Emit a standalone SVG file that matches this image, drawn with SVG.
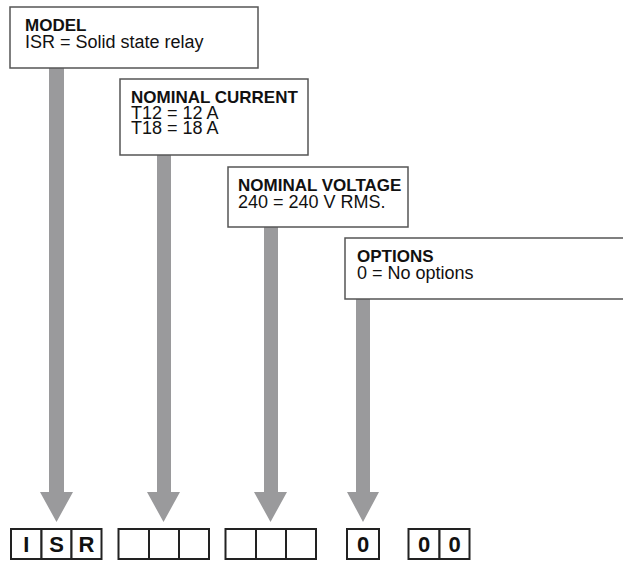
<svg xmlns="http://www.w3.org/2000/svg" width="623" height="563" viewBox="0 0 623 563">
<style>
.box{fill:#fff;stroke:#555;stroke-width:1.5}
.t{font-family:"Liberation Sans",Arial,sans-serif;font-size:18px;fill:#111}
.b{font-weight:bold;font-size:17px}
.arrow{fill:#9a9a9c}
.cell{fill:#fff;stroke:#222;stroke-width:2}
.code{font-family:"Liberation Sans",Arial,sans-serif;font-size:22px;font-weight:bold;fill:#111;text-anchor:middle}
</style>
<rect width="623" height="563" fill="#fff"/>
<g id="connectors">
<path class="arrow" d="M49,68 H64 V492 H73 L56.5,522 L40,492 H49 Z"/>
<path class="arrow" d="M157,155 H171 V492 H180 L163.5,522 L147,492 H157 Z"/>
<path class="arrow" d="M264,227 H278 V492 H287 L270.5,522 L254,492 H264 Z"/>
<path class="arrow" d="M356,299 H370 V492 H379 L363,522 L347,492 H356 Z"/>
</g>
<g id="model">
<rect class="box" x="10" y="7" width="248" height="61"/>
<text class="t b" x="25" y="31">MODEL</text>
<text class="t" x="25" y="48">ISR = Solid state relay</text>
</g>
<g id="current">
<rect class="box" x="120" y="79" width="188" height="76"/>
<text class="t b" x="131" y="103">NOMINAL CURRENT</text>
<text class="t" x="131" y="119">T12 = 12 A</text>
<text class="t" x="131" y="134">T18 = 18 A</text>
</g>
<g id="voltage">
<rect class="box" x="228" y="167" width="180" height="60"/>
<text class="t b" x="238" y="191">NOMINAL VOLTAGE</text>
<text class="t" x="238" y="208">240 = 240 V RMS.</text>
</g>
<g id="options">
<rect class="box" x="345" y="238" width="300" height="61"/>
<text class="t b" x="357" y="262">OPTIONS</text>
<text class="t" x="357" y="279">0 = No options</text>
</g>
<g id="code-model">
<rect class="cell" x="11" y="529" width="30.5" height="30"/>
<rect class="cell" x="41.5" y="529" width="30" height="30"/>
<rect class="cell" x="71.5" y="529" width="30" height="30"/>
<text class="code" x="26.3" y="552">I</text>
<text class="code" x="56.5" y="552">S</text>
<text class="code" x="86.5" y="552">R</text>
</g>
<g id="code-current">
<rect class="cell" x="118.5" y="529" width="30.5" height="30"/>
<rect class="cell" x="149" y="529" width="30" height="30"/>
<rect class="cell" x="179" y="529" width="30" height="30"/>
</g>
<g id="code-voltage">
<rect class="cell" x="225.5" y="529" width="30.5" height="30"/>
<rect class="cell" x="256" y="529" width="30" height="30"/>
<rect class="cell" x="286" y="529" width="30" height="30"/>
</g>
<g id="code-options">
<rect class="cell" x="347" y="529" width="32" height="30"/>
<text class="code" x="363" y="552">0</text>
</g>
<g id="code-extra">
<rect class="cell" x="408.5" y="529" width="31" height="30"/>
<rect class="cell" x="439.5" y="529" width="30" height="30"/>
<text class="code" x="424" y="552">0</text>
<text class="code" x="454.5" y="552">0</text>
</g>
</svg>
